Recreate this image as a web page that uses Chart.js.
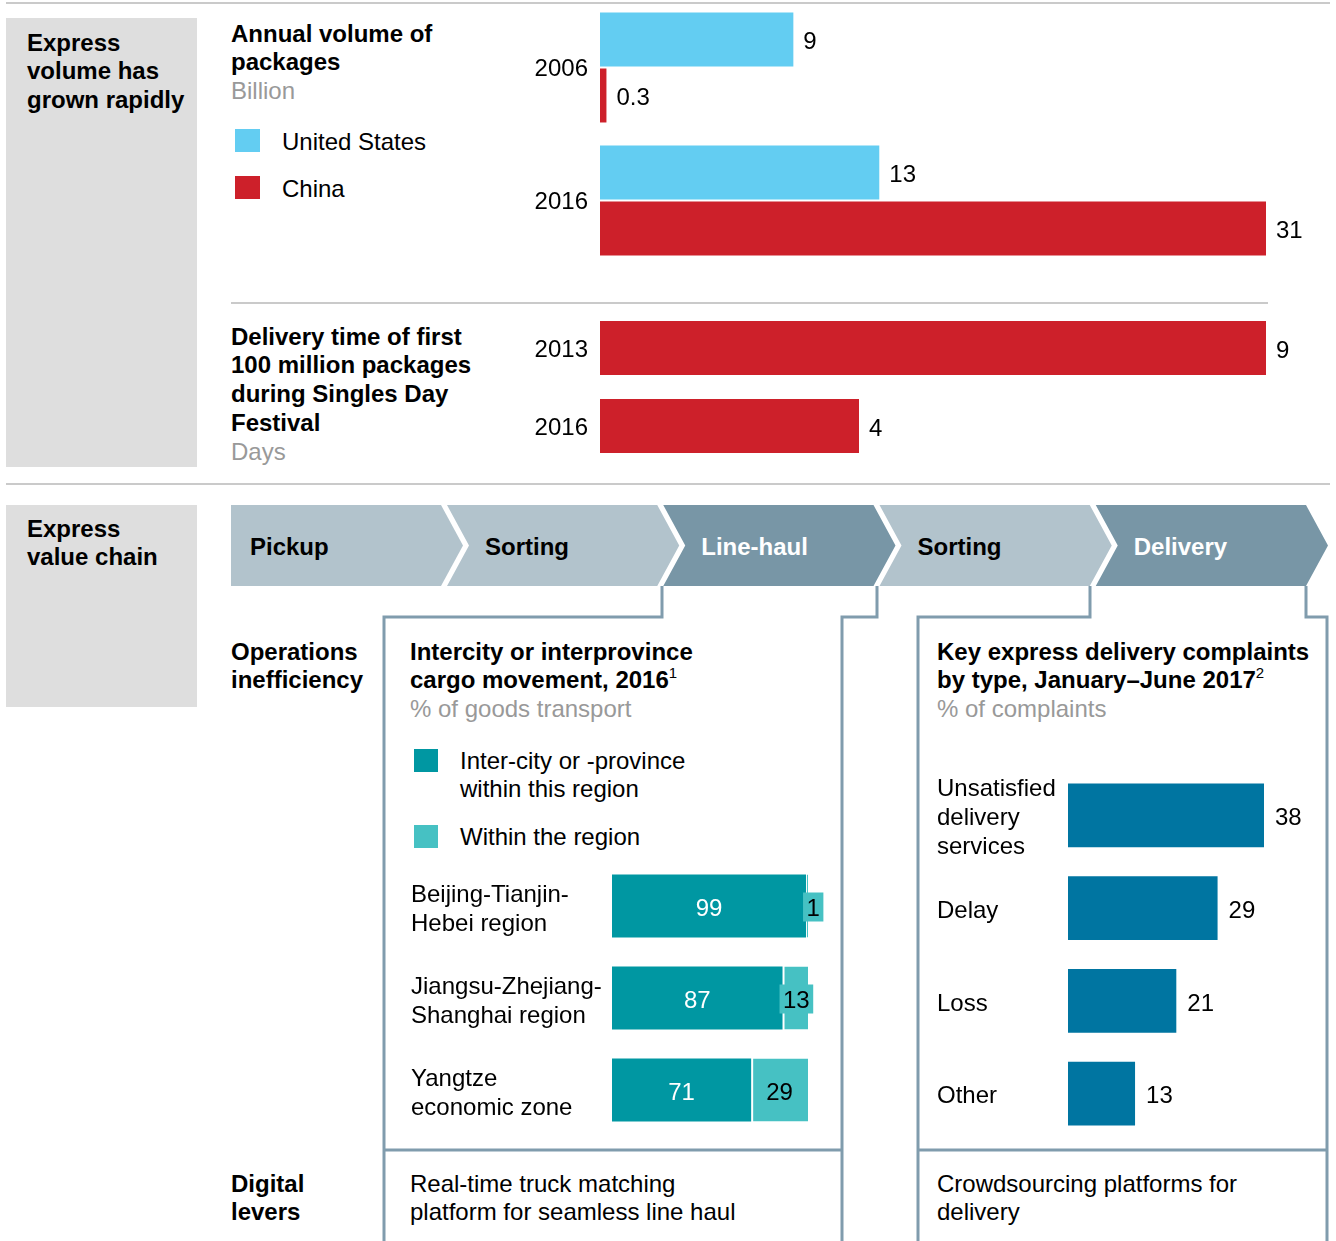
<!DOCTYPE html>
<html>
<head>
<meta charset="utf-8">
<script src="https://cdn.jsdelivr.net/npm/chart.js@4.4.0/dist/chart.umd.min.js"></script>
<style>
  body { margin: 0; background: #fff; }
  #page { position: relative; width: 1336px; height: 1241px; overflow: hidden;
          font-family: "Liberation Sans", Arial, sans-serif; font-size: 24px; color: #000; }
  .t { position: absolute; line-height: 28.75px; white-space: nowrap; }
  .b { font-weight: bold; }
  .g { color: #999; font-weight: normal; }
  .w { color: #fff; }
  .blk { position: absolute; }
  canvas { position: absolute; }
  sup { font-size: 15px; line-height: 0; vertical-align: baseline; position: relative; top: -10px; font-weight: normal; }
  svg { position: absolute; left: 0; top: 0; }
</style>
</head>
<body>
<div id="page">
  <!-- rules and grey side panels -->
  <div class="blk" style="left:6px;top:2px;width:1324px;height:2px;background:#cacaca"></div>
  <div class="blk" style="left:6px;top:18px;width:191px;height:449px;background:#dedede"></div>
  <div class="blk" style="left:231px;top:302px;width:1037px;height:2px;background:#cacaca"></div>
  <div class="blk" style="left:6px;top:483px;width:1324px;height:2px;background:#cacaca"></div>
  <div class="blk" style="left:6px;top:505px;width:191px;height:202px;background:#dedede"></div>

  <svg id="flow" width="1336" height="1241"></svg>

  <!-- top section text -->
  <div class="t b" style="left:27px;top:28.5px">Express<br>volume has<br>grown rapidly</div>
  <div class="t b" style="left:231px;top:19.5px">Annual volume of<br>packages<br><span class="g">Billion</span></div>
  <div class="blk" style="left:235px;top:129px;width:25px;height:23px;background:#63cdf2"></div>
  <div class="t" style="left:282px;top:127.5px">United States</div>
  <div class="blk" style="left:235px;top:176px;width:25px;height:23px;background:#cd202a"></div>
  <div class="t" style="left:282px;top:174.5px">China</div>
  <div class="t b" style="left:231px;top:322.5px">Delivery time of first<br>100 million packages<br>during Singles Day<br>Festival<br><span class="g">Days</span></div>

  <!-- value chain text -->
  <div class="t b" style="left:27px;top:514.5px">Express<br>value chain</div>
  <div class="t b" style="left:231px;top:637.5px">Operations<br>inefficiency</div>
  <div class="t b" style="left:410px;top:637.5px">Intercity or interprovince<br>cargo movement, 2016<sup>1</sup><br><span class="g">% of goods transport</span></div>
  <div class="blk" style="left:414px;top:749px;width:24px;height:23px;background:#0097a2"></div>
  <div class="t" style="left:460px;top:746.5px">Inter-city or -province<br>within this region</div>
  <div class="blk" style="left:414px;top:825px;width:24px;height:23px;background:#46c1c3"></div>
  <div class="t" style="left:460px;top:822.5px">Within the region</div>
  <div class="t b" style="left:937px;top:637.5px">Key express delivery complaints<br>by type, January&ndash;June 2017<sup>2</sup><br><span class="g">% of complaints</span></div>
  <div class="t b" style="left:231px;top:1169.5px">Digital<br>levers</div>
  <div class="t" style="left:410px;top:1169.5px">Real-time truck matching<br>platform for seamless line haul</div>
  <div class="t" style="left:937px;top:1169.5px">Crowdsourcing platforms for<br>delivery</div>

  <canvas id="volumeChart" width="836" height="266" style="left:500px;top:1px"></canvas>
  <canvas id="daysChart" width="836" height="156" style="left:500px;top:309px"></canvas>
  <canvas id="cargoChart" width="420" height="276" style="left:411px;top:860px"></canvas>
  <canvas id="complaintChart" width="390" height="371" style="left:937px;top:769px"></canvas>
</div>

<script>
// --- DATA ---
const volumeYears = ['2006', '2016'];
const usVolume = [9, 13];          // billion packages
const chinaVolume = [0.3, 31];

const dayYears = ['2013', '2016'];
const daysToFirst100m = [9, 3.5];  // bar drawn ~3.5, labelled rounded

const regions = [['Beijing-Tianjin-', 'Hebei region'], ['Jiangsu-Zhejiang-', 'Shanghai region'], ['Yangtze', 'economic zone']];
const interRegion = [99, 87, 71];
const withinRegion = [1, 13, 29];

const complaintTypes = [['Unsatisfied', 'delivery', 'services'], 'Delay', 'Loss', 'Other'];
const complaintShare = [38, 29, 21, 13];

const stages = ['Pickup', 'Sorting', 'Line-haul', 'Sorting', 'Delivery'];
const darkStages = [false, false, true, false, true];

// --- COLOURS ---
const US_BLUE = '#63cdf2';
const CHINA_RED = '#cd202a';
const TEAL_DARK = '#0097a2';
const TEAL_LIGHT = '#46c1c3';
const COMPLAINT_BLUE = '#0075a1';
const CHEV_LIGHT = '#b2c3cc';
const CHEV_DARK = '#7896a6';
const BRACKET = '#809cad';

// --- VALUE CHAIN CHEVRONS + BRACKETS ---
const svg = document.getElementById('flow');
const NS = 'http://www.w3.org/2000/svg';
const page = document.getElementById('page');

stages.forEach((name, i) => {
    const tip = 463 + 216.25 * i;
    const left = i === 0 ? 231 : tip - 232.25;
    const notch = i === 0 ? left : left + 22;
    const poly = document.createElementNS(NS, 'polygon');
    poly.setAttribute('points', [
        [left, 505], [tip - 22, 505], [tip, 545.5], [tip - 22, 586], [left, 586], [notch, 545.5]
    ].map(p => p.join(',')).join(' '));
    poly.setAttribute('fill', darkStages[i] ? CHEV_DARK : CHEV_LIGHT);
    svg.appendChild(poly);

    const label = document.createElement('div');
    label.className = 't b' + (darkStages[i] ? ' w' : '');
    label.style.left = (i === 0 ? 250 : left + 38) + 'px';
    label.style.top = '532.5px';
    label.textContent = name;
    page.appendChild(label);
});

[
    [[662, 586], [662, 617], [384, 617], [384, 1241]],
    [[877, 586], [877, 617], [842, 617], [842, 1241]],
    [[1090, 586], [1090, 617], [918, 617], [918, 1241]],
    [[1306, 586], [1306, 617], [1327, 617], [1327, 1241]],
    [[384, 1150], [842, 1150]],
    [[918, 1150], [1327, 1150]]
].forEach(pts => {
    const pl = document.createElementNS(NS, 'polyline');
    pl.setAttribute('points', pts.map(p => p.join(',')).join(' '));
    pl.setAttribute('fill', 'none');
    pl.setAttribute('stroke', BRACKET);
    pl.setAttribute('stroke-width', '3');
    svg.appendChild(pl);
});

// --- CHARTS ---
Chart.defaults.font.family = '"Liberation Sans", Arial, sans-serif';
Chart.defaults.font.size = 24;
Chart.defaults.color = '#000';

// value labels: end (outside), center (inside), fit (inside or boxed)
const barLabels = {
    id: 'barLabels',
    afterDatasetsDraw(chart, args, opts) {
        const ctx = chart.ctx;
        ctx.save();
        ctx.font = '24px "Liberation Sans", Arial, sans-serif';
        ctx.textBaseline = 'middle';
        chart.data.datasets.forEach((ds, di) => {
            const mode = ds.labelMode;
            const fmt = ds.labelFormat || String;
            chart.getDatasetMeta(di).data.forEach((bar, i) => {
                const txt = fmt(ds.data[i]);
                const tw = ctx.measureText(txt).width;
                const y = bar.y + 3;
                if (mode === 'end') {
                    ctx.fillStyle = '#000';
                    ctx.textAlign = 'left';
                    ctx.fillText(txt, bar.x + opts.gap, y);
                } else if (mode === 'center') {
                    ctx.fillStyle = '#fff';
                    ctx.textAlign = 'center';
                    ctx.fillText(txt, (bar.x + bar.base) / 2, y);
                } else {
                    const w = bar.x - bar.base;
                    ctx.textAlign = 'center';
                    if (tw + 6 > w) {
                        const bx = bar.base - 3, bw = tw + 7;
                        ctx.fillStyle = ds.backgroundColor;
                        ctx.fillRect(bx, bar.y - 13.5, bw, 29);
                        ctx.fillStyle = '#000';
                        ctx.fillText(txt, bx + bw / 2, y);
                    } else {
                        ctx.fillStyle = '#000';
                        ctx.fillText(txt, (bar.x + bar.base) / 2, y);
                    }
                }
            });
        });
        ctx.restore();
    }
};

function catAxis(width, align, padding, shift) {
    return {
        grid: { display: false, drawTicks: false },
        border: { display: false },
        ticks: { color: '#000', font: { size: 24 }, padding: padding, crossAlign: align, autoSkip: false, labelOffset: shift },
        afterFit(s) {
            // fixed axis width, and no label overhang eating into the bar area
            s.width = width;
            s.paddingTop = 0;
            s.paddingBottom = 0;
        }
    };
}

function barChart(id, labels, datasets, opts) {
    return new Chart(document.getElementById(id), {
        type: 'bar',
        data: { labels: labels, datasets: datasets },
        options: {
            indexAxis: 'y',
            responsive: false,
            animation: false,
            devicePixelRatio: 1,
            layout: { padding: { right: opts.padRight } },
            datasets: { bar: { categoryPercentage: opts.cp, barPercentage: opts.bp } },
            plugins: { legend: { display: false }, tooltip: { enabled: false }, barLabels: { gap: opts.gap } },
            scales: {
                x: { display: false, min: 0, max: opts.max, stacked: !!opts.stacked },
                y: Object.assign(catAxis(opts.axisWidth, opts.align, opts.tickPad, opts.shift), { stacked: !!opts.stacked })
            }
        },
        plugins: [barLabels]
    });
}

barChart('volumeChart', volumeYears, [
    { label: 'United States', data: usVolume, backgroundColor: US_BLUE, labelMode: 'end' },
    { label: 'China', data: chinaVolume, backgroundColor: CHINA_RED, labelMode: 'end' }
], { max: 31, axisWidth: 100, align: 'near', tickPad: 12, shift: 2, padRight: 70, cp: 0.842, bp: 0.964, gap: 10 });

barChart('daysChart', dayYears, [
    { label: 'China', data: daysToFirst100m, backgroundColor: CHINA_RED, labelMode: 'end', labelFormat: v => String(Math.round(v)) }
], { max: 9, axisWidth: 100, align: 'near', tickPad: 12, shift: 2, padRight: 70, cp: 0.692, bp: 1, gap: 10 });

barChart('cargoChart', regions, [
    { label: 'Inter-city or -province within this region', data: interRegion, backgroundColor: TEAL_DARK, labelMode: 'center' },
    { label: 'Within the region', data: withinRegion, backgroundColor: TEAL_LIGHT, labelMode: 'fit',
      borderColor: '#fff', borderWidth: { left: 2, top: 0, right: 0, bottom: 0 }, borderSkipped: false }
], { max: 100, axisWidth: 201, align: 'far', tickPad: 0, shift: 4, padRight: 23, cp: 0.685, bp: 1, gap: 10, stacked: true });

barChart('complaintChart', complaintTypes, [
    { label: '% of complaints', data: complaintShare, backgroundColor: COMPLAINT_BLUE, labelMode: 'end' }
], { max: 38, axisWidth: 131, align: 'far', tickPad: 0, shift: 3, padRight: 63, cp: 0.69, bp: 1, gap: 11 });
</script>
</body>
</html>
